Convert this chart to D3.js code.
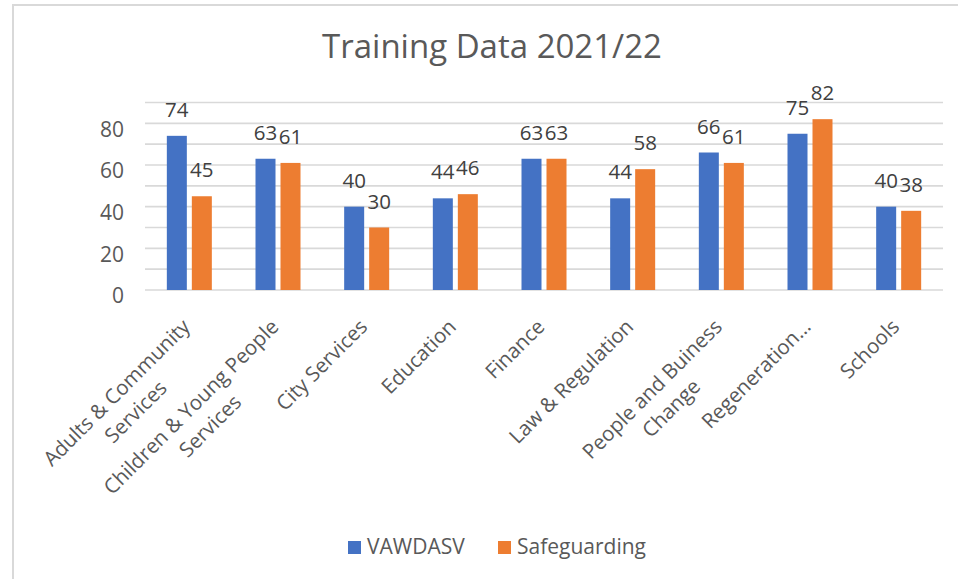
<!DOCTYPE html>
<html>
<head>
<meta charset="utf-8">
<script src="https://cdn.jsdelivr.net/npm/d3@7/dist/d3.min.js"></script>
<style>
  html, body { margin: 0; padding: 0; background: #fff; }
  svg { display: block; font-family: "Open Sans", sans-serif; }
</style>
</head>
<body>
<svg id="chart" width="958" height="579"></svg>
<script>
const title = "Training Data 2021/22";
const categories = [
  "Adults & Community\nServices",
  "Children & Young People\nServices",
  "City Services",
  "Education",
  "Finance",
  "Law & Regulation",
  "People and Buiness\nChange",
  "Regeneration…",
  "Schools"
];
const seriesNames = ["VAWDASV", "Safeguarding"];
const vawdasv = [74, 63, 40, 44, 63, 44, 66, 75, 40];
const safeguarding = [45, 61, 30, 46, 63, 58, 61, 82, 38];
const seriesColors = ["#4472C4", "#ED7D31"];
const yTicks = [0, 20, 40, 60, 80];
const yGrid = [0, 10, 20, 30, 40, 50, 60, 70, 80, 90];

const svg = d3.select("#chart");
const textColor = "#595959";

// border
svg.append("rect").attr("x", 13).attr("y", 5).attr("width", 960).attr("height", 590)
  .attr("fill", "none").attr("stroke", "#d9d9d9").attr("stroke-width", 2);

// title
svg.append("text").attr("x", 492).attr("y", 58).attr("text-anchor", "middle")
  .attr("font-size", 33).attr("fill", textColor).text(title);

const x0 = d3.scaleBand().domain(categories).range([145, 943]).padding(0);
const x1 = d3.scaleBand().domain(seriesNames)
  .range([x0.bandwidth() / 2 - 22.5, x0.bandwidth() / 2 + 22.5]).paddingInner(0.2);
const y = d3.scaleLinear().domain([0, 90]).range([290, 102.5]);

// gridlines
svg.append("g").selectAll("line").data(yGrid).join("line")
  .attr("x1", 145).attr("x2", 943)
  .attr("y1", d => y(d)).attr("y2", d => y(d))
  .attr("stroke", "#d9d9d9").attr("stroke-width", 1.6);

// y axis labels
const yAxis = d3.axisLeft(y).tickValues(yTicks).tickSize(0).tickPadding(0);
const yg = svg.append("g").attr("transform", "translate(124,6)").call(yAxis);
yg.select(".domain").remove();
yg.selectAll("text").attr("font-size", 21).attr("fill", textColor)
  .attr("font-family", "Open Sans, sans-serif");

// bars
const rows = categories.map((c, i) => ({ cat: c, vals: [vawdasv[i], safeguarding[i]] }));
const groups = svg.append("g").selectAll("g").data(rows).join("g")
  .attr("transform", d => `translate(${x0(d.cat)},0)`);
groups.selectAll("rect").data(d => d.vals.map((v, j) => ({ s: seriesNames[j], v, j })))
  .join("rect")
  .attr("x", d => x1(d.s)).attr("width", x1.bandwidth())
  .attr("y", d => y(d.v)).attr("height", d => y(0) - y(d.v))
  .attr("fill", d => seriesColors[d.j]);
groups.selectAll("text").data(d => d.vals.map((v, j) => ({ s: seriesNames[j], v, j })))
  .join("text")
  .attr("x", d => x1(d.s) + x1.bandwidth() / 2)
  .attr("y", d => y(d.v) - 19)
  .attr("text-anchor", "middle").attr("font-size", 20.5).attr("fill", "#404040")
  .text(d => d.v);

// x labels
categories.forEach(c => {
  const cx = x0(c) + x0.bandwidth() / 2;
  const g = svg.append("g").attr("transform", `translate(${cx + 2},328) rotate(-45)`);
  const lines = c.split("\n");
  const t1 = g.append("text").attr("x", 0).attr("y", 0).attr("text-anchor", "end")
    .attr("font-size", 20.5).attr("fill", textColor).text(lines[0]);
  if (lines.length > 1) {
    const w = t1.node().getComputedTextLength();
    g.append("text").attr("x", -w / 2).attr("y", 27).attr("text-anchor", "middle")
      .attr("font-size", 20.5).attr("fill", textColor).text(lines[1]);
  }
});

// legend
const legendX = [348, 498];
seriesNames.forEach((s, i) => {
  svg.append("rect").attr("x", legendX[i]).attr("y", 541).attr("width", 13).attr("height", 13)
    .attr("fill", seriesColors[i]);
  svg.append("text").attr("x", legendX[i] + 19).attr("y", 554).attr("font-size", 21)
    .attr("fill", textColor).text(s);
});
</script>
</body>
</html>
